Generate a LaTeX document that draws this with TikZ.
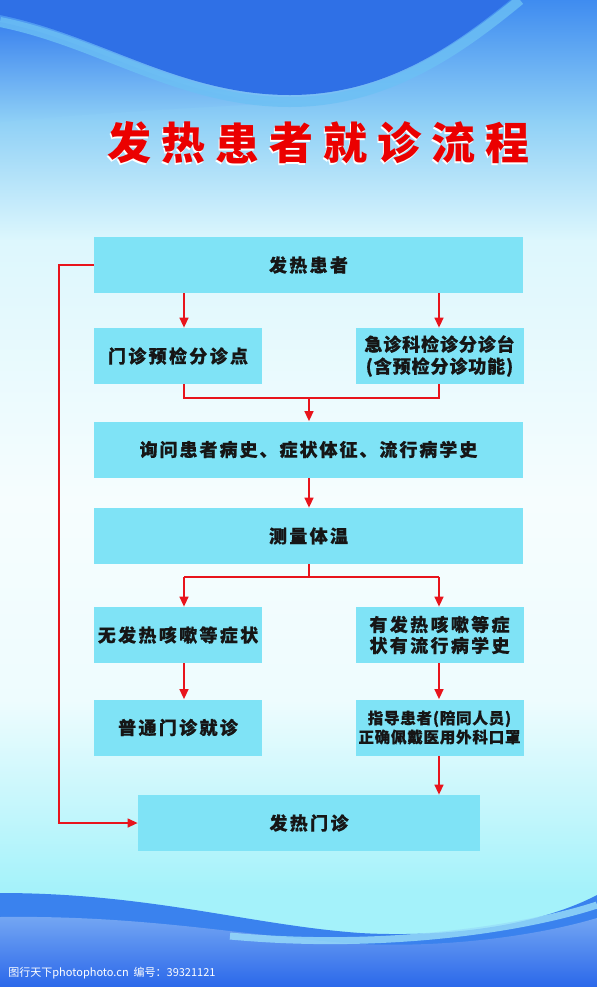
\documentclass[tikz,border=0pt]{standalone}
\usepackage{fontspec}
\usetikzlibrary{arrows.meta}
\newfontfamily\cjk{Noto Sans CJK SC}
\newfontfamily\boxfont{Noto Sans CJK SC}[LetterSpace=13,FakeBold=0.5]
\newfontfamily\wideboxfont{Noto Sans CJK SC}[LetterSpace=11,FakeBold=0.5]
\newfontfamily\tightboxfont{Noto Sans CJK SC}[LetterSpace=5,FakeBold=0.5]
\definecolor{boxcyan}{HTML}{7FE3F6}
\definecolor{flowred}{HTML}{E8141C}
\definecolor{inktext}{HTML}{161616}
\definecolor{wavedark}{HTML}{2F70E6}
\definecolor{wavelight}{HTML}{6CC0F4}
\definecolor{seablue}{HTML}{3A82EE}
\definecolor{deepblue}{HTML}{2B68EA}
\definecolor{bgA}{HTML}{3F8CF0}
\definecolor{bgB}{HTML}{8FD0F6}
\definecolor{bgC}{HTML}{DDF7FD}
\definecolor{bgD}{HTML}{F6FDFE}
\definecolor{bgE}{HTML}{EEFCFE}
\definecolor{bgF}{HTML}{A4F2FA}

\begin{document}
\begin{tikzpicture}[x=0.5pt,y=-0.5pt,
  box/.style={fill=boxcyan,text=inktext,inner sep=0pt,minimum height=28pt,align=center,
    font=\boxfont\bfseries\fontsize{9}{11}\selectfont},
  wide/.style={box,minimum width=214.5pt},
  half/.style={box,minimum width=84pt},
  flow/.style={flowred,line width=0.7pt},
  flowarr/.style={flow,-{Triangle[length=5pt,width=4.5pt]}}]
\useasboundingbox (0,0) rectangle (597,987);
% Background
\shade[top color=bgA,bottom color=bgB] (0,0) rectangle (597,121);
\shade[top color=bgB,bottom color=bgC] (0,120) rectangle (597,241);
\shade[top color=bgC,bottom color=bgD] (0,240) rectangle (597,501);
\shade[top color=bgD,bottom color=bgE] (0,500) rectangle (597,701);
\shade[top color=bgE,bottom color=bgF] (0,700) rectangle (597,891);
\fill[bgF] (0,890) rectangle (597,987);
% Top waves
\shade[top color=seablue,bottom color=bgB] (0,22) .. controls (100,42) and (180,102) .. (290,102)
  .. controls (200,108) and (100,112) .. (0,122) -- cycle;
\fill[wavedark] (0,0) -- (0,15) .. controls (100,35) and (180,95) .. (290,95)
  .. controls (390,95) and (460,40) .. (510,0) -- cycle;
\draw[wavelight,line width=5pt,opacity=0.8] (0,22) .. controls (100,42) and (180,102) .. (290,102)
  .. controls (390,102) and (465,45) .. (520,0);
% Bottom waves
\fill[seablue] (0,893) .. controls (150,893) and (250,925) .. (360,933)
  .. controls (450,938) and (540,925) .. (597,895) -- (597,987) -- (0,987) -- cycle;
\shade[top color=seablue!70!white,bottom color=deepblue] (0,917) .. controls (150,915) and (250,937) .. (360,944)
  .. controls (450,948) and (540,935) .. (597,918) -- (597,987) -- (0,987) -- cycle;
\draw[cyan!40!white,line width=3.5pt,opacity=0.8] (230,936) .. controls (380,950) and (520,930) .. (597,905);
% Title
\foreach \ch [count=\i] in {发,热,患,者,就,诊,流,程} {
  \node[text=white,font=\cjk\bfseries\fontsize{22}{22}\selectfont] (ts\i) at ({75+54*\i-1},145) {\ch};
  \node[text=red!92!black,font=\cjk\bfseries\fontsize{22}{22}\selectfont] (t\i) at ({75+54*\i},143) {\ch};
}
% Boxes
\node[wide] (fr) at (308.5,265) {发热患者};
\node[half] (mz) at (178,356) {门诊预检分诊点};
\node[half,font=\tightboxfont\bfseries\fontsize{9}{11}\selectfont] (jz) at (439.5,356) {急诊科检诊分诊台\\(含预检分诊功能)};
\node[wide,font=\wideboxfont\bfseries\fontsize{9}{11}\selectfont] (xw) at (308.5,449.5) {询问患者病史、症状体征、流行病学史};
\node[wide] (cl) at (308.5,536) {测量体温};
\node[half] (wu) at (178,635) {无发热咳嗽等症状};
\node[half,font=\boxfont\bfseries\fontsize{9}{10.5}\selectfont] (you) at (439.5,635) {有发热咳嗽等症\\状有流行病学史};
\node[half] (pt) at (178,727.5) {普通门诊就诊};
\node[half,font=\tightboxfont\bfseries\fontsize{7.75}{9.5}\selectfont] (zd) at (439.5,727.5) {指导患者(陪同人员)\\正确佩戴医用外科口罩};
\node[box,minimum width=171pt] (frmz) at (309,823) {发热门诊};
% Connectors
\coordinate (lx) at (184,0);
\coordinate (rx) at (439,0);
\coordinate (lp) at (59,0);
\coordinate (m1) at (309,398);
\coordinate (s1) at (309,577);
\draw[flowarr] (fr.south -| lx) -- (mz.north -| lx);
\draw[flowarr] (fr.south -| rx) -- (jz.north -| rx);
\draw[flow] (mz.south -| lx) -- (lx |- m1) -- (rx |- m1) -- (jz.south -| rx);
\draw[flowarr] (m1) -- (xw.north -| m1);
\draw[flowarr] (xw.south -| m1) -- (cl.north -| m1);
\draw[flow] (cl.south -| s1) -- (s1);
\draw[flow] (lx |- s1) -- (rx |- s1);
\draw[flowarr] (lx |- s1) -- (wu.north -| lx);
\draw[flowarr] (rx |- s1) -- (you.north -| rx);
\draw[flowarr] (wu.south -| lx) -- (pt.north -| lx);
\draw[flowarr] (you.south -| rx) -- (zd.north -| rx);
\draw[flowarr] (zd.south -| rx) -- (frmz.north -| rx);
\draw[flowarr] (fr.west) -- (fr.west -| lp) |- (frmz.west);
% Watermark
\node[anchor=west,text=white,inner sep=0pt,font=\cjk\fontsize{5.5}{6}\selectfont] (wm) at (8,973) {图行天下photophoto.cn\ \ 编号：39321121};
\end{tikzpicture}
\end{document}
